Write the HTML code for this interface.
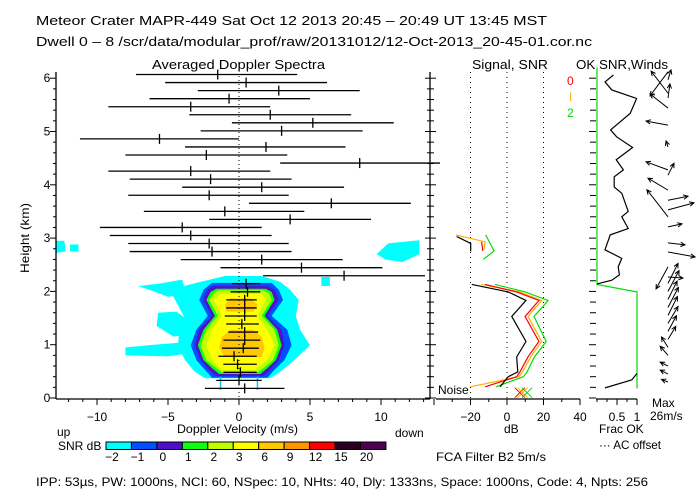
<!DOCTYPE html>
<html><head><meta charset="utf-8"><style>
html,body{margin:0;padding:0;background:#fff;}
svg{display:block;font-family:"Liberation Sans",sans-serif;}
text{font-size:12px;fill:#000;}
</style></head><body>
<svg id="chart" xmlns="http://www.w3.org/2000/svg" width="700" height="500" viewBox="0 0 700 500">
<rect width="700" height="500" fill="#fff"/>
<text x="36" y="25" textLength="511" lengthAdjust="spacingAndGlyphs" style="font-size:13px">Meteor Crater  MAPR-449  Sat Oct 12 2013 20:45 – 20:49 UT 13:45 MST</text>
<text x="36" y="46" textLength="556" lengthAdjust="spacingAndGlyphs" style="font-size:13px">Dwell  0 –  8   /scr/data/modular_prof/raw/20131012/12-Oct-2013_20-45-01.cor.nc</text>
<text x="152" y="69" textLength="173" lengthAdjust="spacingAndGlyphs" style="font-size:13px">Averaged Doppler Spectra</text>
<text x="472" y="69" textLength="76" lengthAdjust="spacingAndGlyphs" style="font-size:13px">Signal, SNR</text>
<text x="576" y="69" textLength="92" lengthAdjust="spacingAndGlyphs" style="font-size:13px">OK SNR,Winds</text>
<text x="567" y="85" style="fill:#ff0000">0</text>
<text x="569" y="101" style="fill:#ffb000">I</text>
<text x="567" y="117" style="fill:#00dd00">2</text>
<text transform="translate(29,238) rotate(-90)" text-anchor="middle" textLength="70" lengthAdjust="spacingAndGlyphs">Height (km)</text>
<text x="177" y="433" textLength="121" lengthAdjust="spacingAndGlyphs">Doppler Velocity (m/s)</text>
<text x="57" y="436">up</text>
<text x="395" y="437">down</text>
<text x="58" y="450">SNR dB</text>
<text x="504" y="433">dB</text>
<text x="599" y="433">Frac OK</text>
<text x="599" y="449" textLength="62" lengthAdjust="spacingAndGlyphs">··· AC offset</text>
<text x="652" y="407">Max</text>
<text x="650" y="420">26m/s</text>
<text x="436" y="461" textLength="110" lengthAdjust="spacingAndGlyphs">FCA Filter B2   5m/s</text>
<text x="438" y="394">Noise</text>
<text x="36" y="486" textLength="612" lengthAdjust="spacingAndGlyphs">IPP:  53µs,  PW: 1000ns,  NCI:  60,  NSpec: 10, NHts: 40,  Dly: 1333ns,  Space: 1000ns,  Code: 4,  Npts: 256</text>
<g id="layer"></g>
</svg>
<script>
// ---- data ----
const gateStart = 0.18, gateStep = 0.151;
const specLeft  = [-2.4,-1.6,-1.1,-1.1,-1.45,-1.2,-1.1,-0.75,-0.9,-1.0,-0.9,-0.9,-0.6,-0.5,1.7,-1.3,-4.1,-7.7,-7.8,-9.1,-9.8,-2.1,-6.7,0.7,-7.8,-4.0,-7.7,-9.2,2.9,-8.0,-3.8,-11.2,-2.7,-0.5,-3.5,-9.2,-6.3,-2.9,-5.2,-7.25];
const specMean  = [0.4,0.0,0.1,-0.1,-0.35,0.3,0.4,0.4,0.2,0.4,0.4,0.4,0.6,0.5,7.4,4.4,1.6,-1.9,-2.1,-3.4,-4.0,3.6,-1.0,6.5,-2.1,1.6,-2.0,-3.4,8.5,-2.3,1.9,-5.6,3.0,5.2,2.2,-3.4,-0.7,2.8,0.5,-1.5];
const specRight = [3.2,1.6,1.25,1.25,1.25,1.4,1.5,1.35,1.4,1.25,1.25,1.25,1.5,1.5,13.1,10.1,7.3,3.7,3.5,2.3,1.6,9.3,4.6,12.1,3.5,7.4,3.7,2.2,14.2,3.4,7.5,0,8.7,10.9,7.9,2.2,5.0,8.5,6.2,4.1];

const snrColors = ["#00ffff","#0050ff","#5010c8","#10ff10","#c0ff00","#ffff00","#ffc800","#ff9600","#ff0000","#2a0020","#500050"];
const snrLabels = ["-2","-1","0","1","2","3","6","9","12","15","20"];

const lvlCyan   = [[0.37,-2.4,2.2],[0.49,-3.1,2.9],[0.71,-3.8,3.9],[0.99,-4.3,5.0],[1.28,-4.2,4.3],[1.54,-3.9,4.0],[1.84,-4.5,4.2],[2.03,-4.9,3.6],[2.18,-2.7,2.9],[2.29,-1.0,1.6]];
const lvlBlue   = [[0.38,-1.9,2.0],[0.53,-2.4,2.5],[0.71,-3.0,3.2],[0.99,-3.4,3.7],[1.28,-3.0,3.4],[1.54,-2.2,2.3],[1.84,-2.8,3.1],[2.03,-2.5,2.8],[2.16,-1.9,2.3]];
const lvlIndigo = [[0.41,-1.6,1.7],[0.53,-2.1,2.2],[0.71,-2.7,2.8],[0.99,-3.1,3.2],[1.28,-2.8,3.0],[1.54,-1.9,2.0],[1.84,-2.5,2.8],[2.03,-2.2,2.5],[2.10,-1.8,2.0]];
const lvlGreen  = [[0.45,-1.4,1.5],[0.56,-1.9,2.0],[0.71,-2.5,2.6],[0.99,-2.9,3.0],[1.28,-2.5,2.7],[1.54,-1.7,1.8],[1.84,-2.3,2.5],[1.99,-2.0,2.3],[2.05,-1.6,1.9]];
const lvlYGreen = [[0.48,-1.2,1.3],[0.58,-1.7,1.8],[0.71,-2.3,2.4],[0.99,-2.7,2.8],[1.28,-2.3,2.5],[1.54,-1.5,1.6],[1.84,-2.1,2.3],[1.97,-1.8,2.1],[2.02,-1.4,1.7]];
const lvlYellow = [[0.53,-1.2,1.1],[0.71,-1.9,2.0],[0.99,-2.3,2.5],[1.28,-1.9,2.0],[1.54,-1.2,1.3],[1.84,-1.8,1.9],[1.95,-1.3,1.6]];
const lvlOrangeLow = [[0.77,-1.0,1.6],[0.95,-1.4,1.8],[1.15,-1.2,1.6],[1.28,-0.6,1.0]];
const lvlOrangeUp  = [[1.62,-0.9,1.0],[1.75,-1.0,1.3],[1.87,-0.6,0.8]];
const patchA = [[-8.0,0.8],[-8.0,0.95],[-6,1.0],[-3.5,1.05],[-3.2,0.85],[-5,0.78]];
const patchB = [[-5.8,1.35],[-5.7,1.6],[-4.4,1.62],[-3.8,1.5],[-3.7,1.2],[-4.6,1.15]];
const patchC = [[-7.1,2.1],[-5.5,2.15],[-4,2.22],[-3.7,1.95],[-5,1.9],[-6,2.0]];
const patchD = [[9.7,2.7],[10.5,2.9],[12.7,2.96],[12.7,2.7],[11.5,2.55],[10.3,2.6]];
const patchE = [[-12.9,2.72],[-12.9,2.95],[-12.3,2.95],[-12.2,2.75]];
const patchF = [[-11.9,2.75],[-11.9,2.88],[-11.3,2.88],[-11.3,2.75]];
const patchG = [[5.8,2.1],[6.4,2.1],[6.4,2.27],[5.8,2.27]];

const sigH     = [0.21,0.40,0.49,0.77,1.06,1.53,1.83,1.99,2.13];
const sigBlack = [-3.8,0.7,5.9,5.3,10.4,2.6,10.4,0.7,-19.3];
const sigRed   = [-12,5.3,7.1,11.5,17.5,9.9,17.5,5.3,-12];
const sigOrange= [-20,6.5,8.5,13,19,11.5,19,7,-14];
const sigGreen = [-6,9,11,15,21.5,14.8,22.5,10,-6.6];
const upH_black=[3.03,2.90,2.75], upBlack=[-27.6,-19.9,-19.9];
const upH_orange=[3.06,2.93,2.78], upOrange=[-28,-12,-12.6];
const upH_red=[2.93,2.76], upRed=[-13.9,-13.3];
const upH_green=[3.06,2.76,2.60], upGreen=[-11.7,-7.1,-13];
const noiseDb = [7,8.5,11];
const noiseColors = ["#ff0000","#ffb000","#00dd00"];

const fracH = [6.06,5.93,5.78,5.62,5.34,5.03,4.9,4.7,4.47,4.28,4.15,3.96,3.84,3.5,3.4,3.18,3.06,2.78,2.62,2.46,2.31,2.21,2.14];
const fracBlack = [0.41,0.2,0.37,0.99,0.83,0.34,0.49,0.89,0.48,0.66,0.43,0.43,0.62,0.78,0.62,0.78,0.33,0.2,0.62,0.53,0.56,0.37,0];
const fracLowH = [0.19,0.34,0.46];
const fracLowBlack = [0.2,0.87,1.0];
const fracGreenH = [6.2,2.13,1.99,0.18];
const fracGreen = [0,0,1,1];

const windH = [6.12,5.97,5.72,5.63,5.44,5.12,4.71,4.28,4.18,3.9,3.71,3.53,3.4,3.21,2.91,2.74,2.46,2.27,2.15,2.0,1.85,1.7,1.55,1.4,1.25,1.1,0.95,0.8,0.6,0.45,0.3];
const windU = [-13.8,2.3,-13,1.5,-13.8,-16.9,-1.5,-16.9,4.6,-15.4,15.4,20,-16.2,10.8,13.1,20.8,-9.2,11.5,7.7,8.5,7.0,8.0,7.3,7.7,6.5,6.0,-5,-6,-6,-6,-5];
const windV = [-18.5,7.7,16.9,10.8,10.8,3.1,4.6,6.2,9.2,9.2,3.1,5.4,20.8,2.3,-1.5,-3.8,-16.9,-0.8,15.4,16,14,15.4,14.5,13,12,10,8,7,3,3,2];

// ---- scales ----
const yS = h => 398 - h*53.3;
const xS = v => 239 + v*14.2;
const sx = d => 507 + d*1.825;
const fx = f => 597 + f*40;
const windScale = 1.3, windX = 668;

const NS = "http://www.w3.org/2000/svg";
const layer = document.getElementById('layer');
function mk(tag, attrs){ const e=document.createElementNS(NS,tag); for(const k in attrs) e.setAttribute(k,attrs[k]); layer.appendChild(e); return e; }

// contours
function level(rows, color, name){
  const pts = rows.map(r=>xS(r[1])+','+yS(r[0])).concat(rows.slice().reverse().map(r=>xS(r[2])+','+yS(r[0])));
  const p = mk('polygon',{points:pts.join(' '),fill:color});
  
  
}
function patch(pts, color){
  const p = mk('polygon',{points:pts.map(q=>xS(q[0])+','+yS(q[1])).join(' '),fill:color});
  
  
}
[patchA,patchB,patchC,patchD,patchE,patchF,patchG].forEach(p=>patch(p,snrColors[0]));
level(lvlCyan,snrColors[0],'snr-contour-cyan');
level(lvlBlue,snrColors[1],'snr-contour-blue');
level(lvlIndigo,snrColors[2],'snr-contour-indigo');
level(lvlGreen,snrColors[3],'snr-contour-green');
level(lvlYGreen,snrColors[4],'snr-contour-yellowgreen');
level(lvlYellow,snrColors[5],'snr-contour-yellow');
level(lvlOrangeLow,snrColors[6],'snr-contour-orange-low');
level(lvlOrangeUp,snrColors[6],'snr-contour-orange-up');
[-1.3,1.3].forEach(v=>{ mk('line',{x1:xS(v),x2:xS(v),y1:yS(0.15),y2:yS(0.4),stroke:'#00c8ff','stroke-width':1.5}); });

// zero line
const z = mk('line',{x1:xS(0),x2:xS(0),y1:76,y2:398,stroke:'#000','stroke-dasharray':'1,3'});



// spectra bars
for(let i=0;i<specMean.length;i++){
  const y = yS(gateStart + gateStep*i);
  const b = mk('line',{x1:xS(specLeft[i]),x2:Math.min(440,xS(specRight[i])),y1:y,y2:y,stroke:'#000','stroke-width':1.3});
  
  
  const t = mk('line',{x1:xS(specMean[i]),x2:xS(specMean[i]),y1:y-5,y2:y+5,stroke:'#000','stroke-width':1.3});
  
  
}

// main axes
mk('line',{x1:56,x2:56,y1:72,y2:399,stroke:'#000','stroke-width':1.3});
mk('line',{x1:430,x2:430,y1:72,y2:399,stroke:'#000','stroke-width':1.3});
mk('line',{x1:56,x2:430,y1:399,y2:399,stroke:'#000','stroke-width':1.3});
for(let k=0;k<=30;k++){
  const h=k*0.2, y=yS(h), maj=(k%5===0);
  mk('line',{x1:56-(maj?6:3),x2:56,y1:y,y2:y,stroke:'#000'});
  mk('line',{x1:430-(maj?5:3),x2:430+(maj?6:4),y1:y,y2:y,stroke:'#000'});
  mk('line',{x1:592-(maj?3:2),x2:596,y1:y,y2:y,stroke:'#000'});
  if(maj){ const t=mk('text',{x:47,y:y+4,'text-anchor':'middle'}); t.textContent=String(h);
    
     }
}
for(let v=-12;v<=13;v++){
  const x=xS(v), maj=(v%5===0);
  mk('line',{x1:x,x2:x,y1:399,y2:399+(maj?6:3),stroke:'#000'});
  if(maj){ const t=mk('text',{x:x,y:421,'text-anchor':'middle'}); t.textContent=String(v).replace('-','−');
    
     }
}

// signal panel
[-20,0,20].forEach(d=>{ const l=mk('line',{x1:sx(d),x2:sx(d),y1:72,y2:398,stroke:'#000','stroke-dasharray':'1,4'});
  
   });
mk('line',{x1:436,x2:sx(40),y1:399,y2:399,stroke:'#000','stroke-width':1.3});
for(let d=-40;d<=40;d+=10){
  mk('line',{x1:sx(d),x2:sx(d),y1:399,y2:399+(d%20===0?6:3),stroke:'#000'});
  if(d%20===0 && d>-40){ const t=mk('text',{x:sx(d),y:421,'text-anchor':'middle'}); t.textContent=String(d).replace('-','−');
    
     }
}
function series(hs, vals, color, name, scale, ys){
  const p = mk('polyline',{points:hs.map((h,i)=>scale(vals[i])+','+yS(h)).join(' '),fill:'none',stroke:color,'stroke-width':1.2});
  
  
}
series(sigH,sigGreen,'#00dd00','signal-snr-2',sx);
series(sigH,sigOrange,'#ffb000','signal-snr-1',sx);
series(sigH,sigRed,'#ff0000','signal-snr-0',sx);
series(sigH,sigBlack,'#000','signal-power',sx);
series(upH_green,upGreen,'#00dd00','signal-snr-2-upper',sx);
series(upH_orange,upOrange,'#ffb000','signal-snr-1-upper',sx);
series(upH_red,upRed,'#ff0000','signal-snr-0-upper',sx);
series(upH_black,upBlack,'#000','signal-power-upper',sx);
noiseDb.forEach((d,i)=>{
  const x=sx(d), y=yS(0.1);
  const a=mk('path',{d:`M${x-5},${y-5}L${x+5},${y+5}M${x-5},${y+5}L${x+5},${y-5}`,stroke:noiseColors[i],fill:'none'});
  
  
});

// frac panel
mk('line',{x1:596,x2:637,y1:399,y2:399,stroke:'#000','stroke-width':1.3});
[0,0.25,0.5,0.75,1].forEach(f=>{ mk('line',{x1:fx(f),x2:fx(f),y1:399,y2:399+(f===0.5||f===1?6:3),stroke:'#000'}); });
[[0.5,'0.5'],[1,'1']].forEach(q=>{ const t=mk('text',{x:fx(q[0]),y:421,'text-anchor':'middle'}); t.textContent=q[1];
  
   });
series(fracGreenH,fracGreen,'#00dd00','frac-ok-green',fx);
series(fracH,fracBlack,'#000','frac-ok-black',fx);
series(fracLowH,fracLowBlack,'#000','frac-ok-black-low',fx);

// winds
for(let i=0;i<windH.length;i++){
  const x0=windX, y0=yS(windH[i]);
  const x1=x0+windU[i]*windScale, y1=y0-windV[i]*windScale;
  const ang=Math.atan2(y1-y0,x1-x0), L=5;
  const h1x=x1-L*Math.cos(ang-0.45), h1y=y1-L*Math.sin(ang-0.45);
  const h2x=x1-L*Math.cos(ang+0.45), h2y=y1-L*Math.sin(ang+0.45);
  const a=mk('path',{d:`M${x0},${y0}L${x1},${y1}M${h1x},${h1y}L${x1},${y1}L${h2x},${h2y}`,stroke:'#000',fill:'none'});
  
  
}

// colorbar
const cbX=106, cbW=25.45, cbY=442, cbH=7.5;
snrColors.forEach((c,i)=>{
  const r=mk('rect',{x:cbX+i*cbW,y:cbY,width:cbW,height:cbH,fill:c,stroke:'#000','stroke-width':1});
  
  
  const t=mk('text',{x:cbX+i*cbW+6,y:cbY+19,'text-anchor':'middle'}); t.textContent=snrLabels[i].replace('-','−');
  
  
});
</script>
</body></html>
